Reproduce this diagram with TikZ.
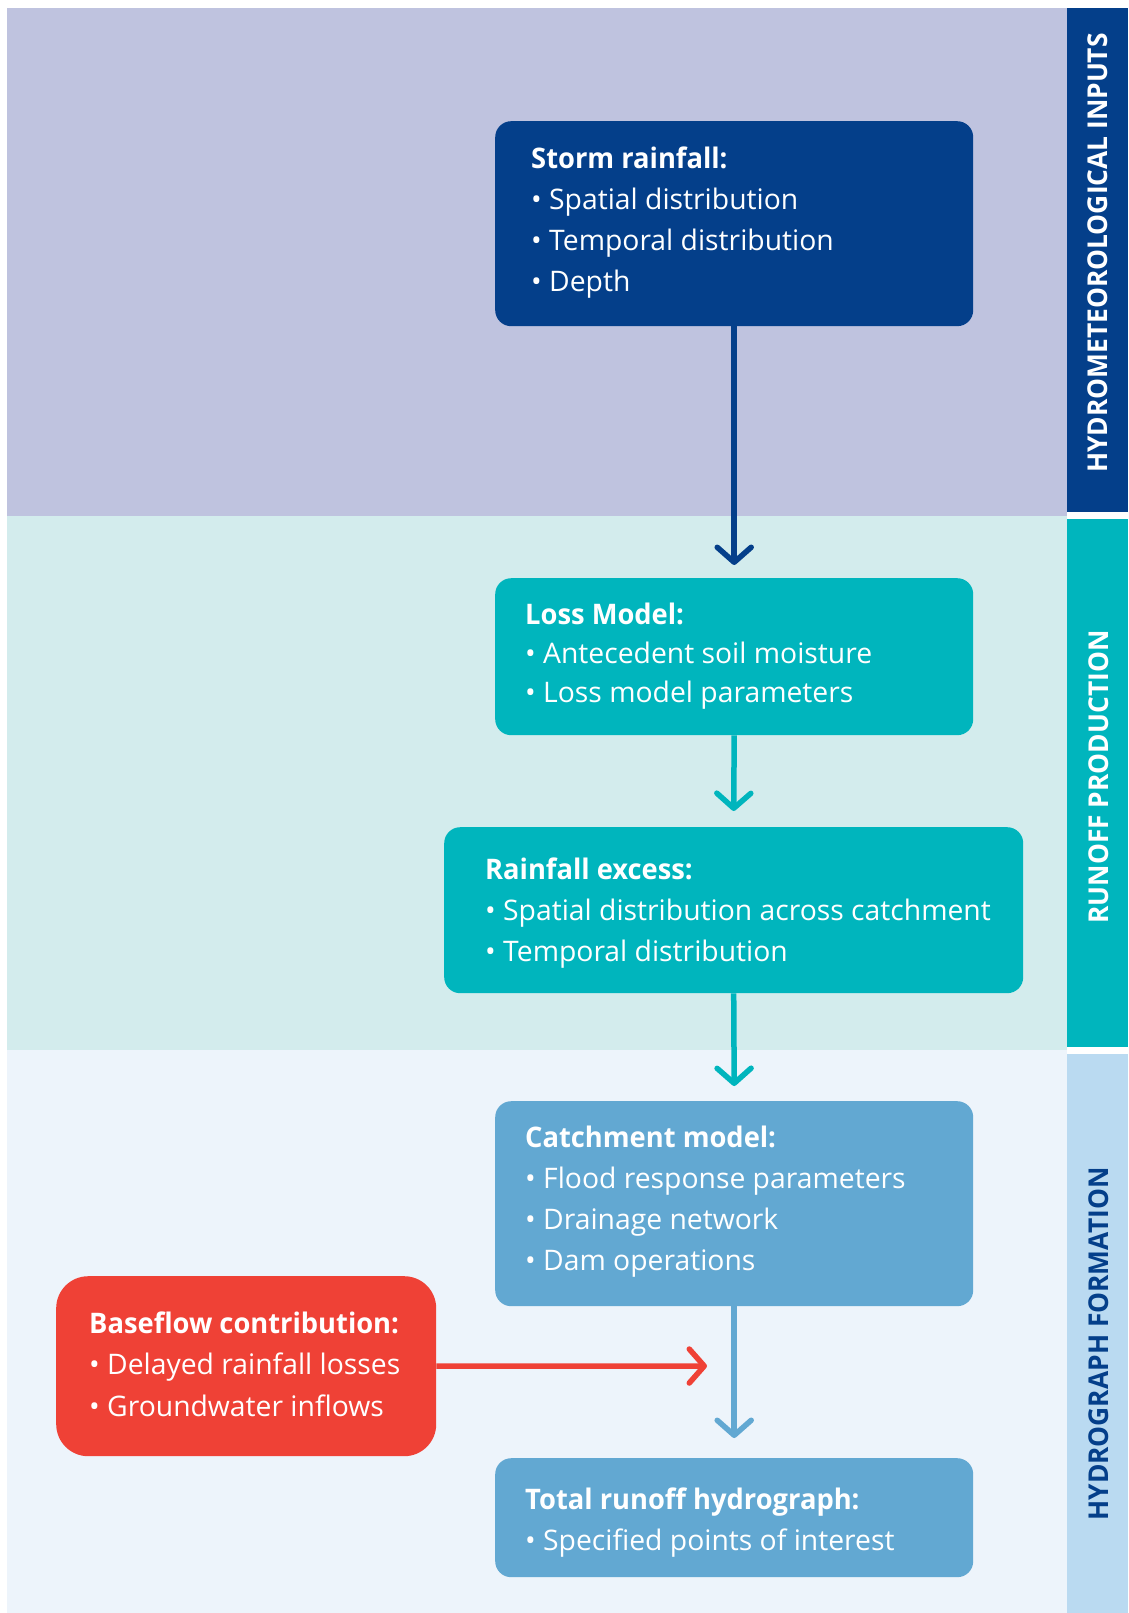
\documentclass[tikz,border=0pt]{standalone}
\usepackage{fontspec}
\setmainfont{Open Sans}[BoldFeatures={FakeStretch=0.965}]
\usetikzlibrary{arrows.meta,calc}
\definecolor{bandA}{HTML}{BFC3DF}
\definecolor{bandB}{HTML}{D3ECED}
\definecolor{bandC}{HTML}{EDF4FB}
\definecolor{cNavy}{HTML}{043F8A}
\definecolor{cTeal}{HTML}{00B5BD}
\definecolor{cSky}{HTML}{62A8D2}
\definecolor{cLabC}{HTML}{BADAF1}
\definecolor{cRed}{HTML}{EF4136}
\begin{document}
\begin{tikzpicture}[x=1pt,y=-1pt,
  box/.style={rounded corners=16pt, inner sep=0pt, anchor=north west, draw=none},
  txt/.style={anchor=base west, inner sep=0pt, align=left, text=white},
  lab/.style={rotate=90, inner sep=0pt, font=\fontsize{27.3}{30}\selectfont\bfseries},
  arr/.style={line width=5.5pt, -{Straight Barb[length=15pt, width=34pt, round]}}]
\useasboundingbox (0,0) rectangle (1128,1613);
\fill[white] (0,0) rectangle (1128,1613);
% bands
\fill[bandA] (7,8) rectangle (1067,516);
\fill[bandB] (7,516) rectangle (1067,1050);
\fill[bandC] (7,1050) rectangle (1067,1613);
% label columns
\fill[cNavy] (1067,8) rectangle (1128,512);
\fill[cTeal] (1067,519) rectangle (1128,1047);
\fill[cLabC] (1067,1054) rectangle (1128,1613);
\node[lab, text=white] (labA) at (1098,253) {HYDROMETEOROLOGICAL INPUTS};
\node[lab, text=white] (labB) at (1099,777) {RUNOFF PRODUCTION};
\node[lab, text=cNavy] (labC) at (1099,1344) {HYDROGRAPH FORMATION};
% boxes
\node[box, fill=cNavy, minimum width=478pt, minimum height=205pt] (storm) at (495,121) {};
\node[box, fill=cTeal, minimum width=478pt, minimum height=157pt] (loss) at (495,578) {};
\node[box, fill=cTeal, minimum width=579pt, minimum height=166pt] (rain) at (444,827) {};
\node[box, fill=cSky, minimum width=478pt, minimum height=205pt] (catch) at (495,1101) {};
\node[box, fill=cSky, minimum width=478pt, minimum height=119pt] (total) at (495,1458) {};
\node[box, fill=cRed, rounded corners=32pt, minimum width=380pt, minimum height=180pt] (base) at (56,1276) {};
% texts (anchored at the baseline of the last line)
\node[txt, font=\fontsize{28.3}{40.7}\selectfont] (stormtxt) at (531,291)
  {\textbf{Storm rainfall:}\\• Spatial distribution\\• Temporal distribution\\• Depth};
\node[txt, font=\fontsize{28.3}{39}\selectfont] (losstxt) at (525,702)
  {\textbf{Loss Model:}\\• Antecedent soil moisture\\• Loss model parameters};
\node[txt, font=\fontsize{28.3}{41}\selectfont] (raintxt) at (485,961)
  {\textbf{Rainfall excess:}\\• Spatial distribution across catchment\\• Temporal distribution};
\node[txt, font=\fontsize{28.3}{40.7}\selectfont] (catchtxt) at (525,1270)
  {\textbf{Catchment model:}\\• Flood response parameters\\• Drainage network\\• Dam operations};
\node[txt, font=\fontsize{28.3}{41}\selectfont] (totaltxt) at (525,1550)
  {\textbf{Total runoff hydrograph:}\\• Specified points of interest};
\node[txt, font=\fontsize{28.3}{41.3}\selectfont] (basetxt) at (89,1416)
  {\textbf{Baseflow contribution:}\\• Delayed rainfall losses\\• Groundwater inflows};
% arrows
\draw[arr, cNavy] (storm.south) -- ($(loss.north)+(0,-13)$);
\draw[arr, cTeal] (loss.south) -- ($(rain.north)+(0,-16)$);
\draw[arr, cTeal] (rain.south) -- ($(catch.north)+(0,-15)$);
\draw[arr, cSky] (catch.south) -- ($(total.north)+(0,-20)$);
\coordinate (redtip) at (707,1366);
\draw[arr, cRed] (base.east) -- (redtip);
\end{tikzpicture}
\end{document}
